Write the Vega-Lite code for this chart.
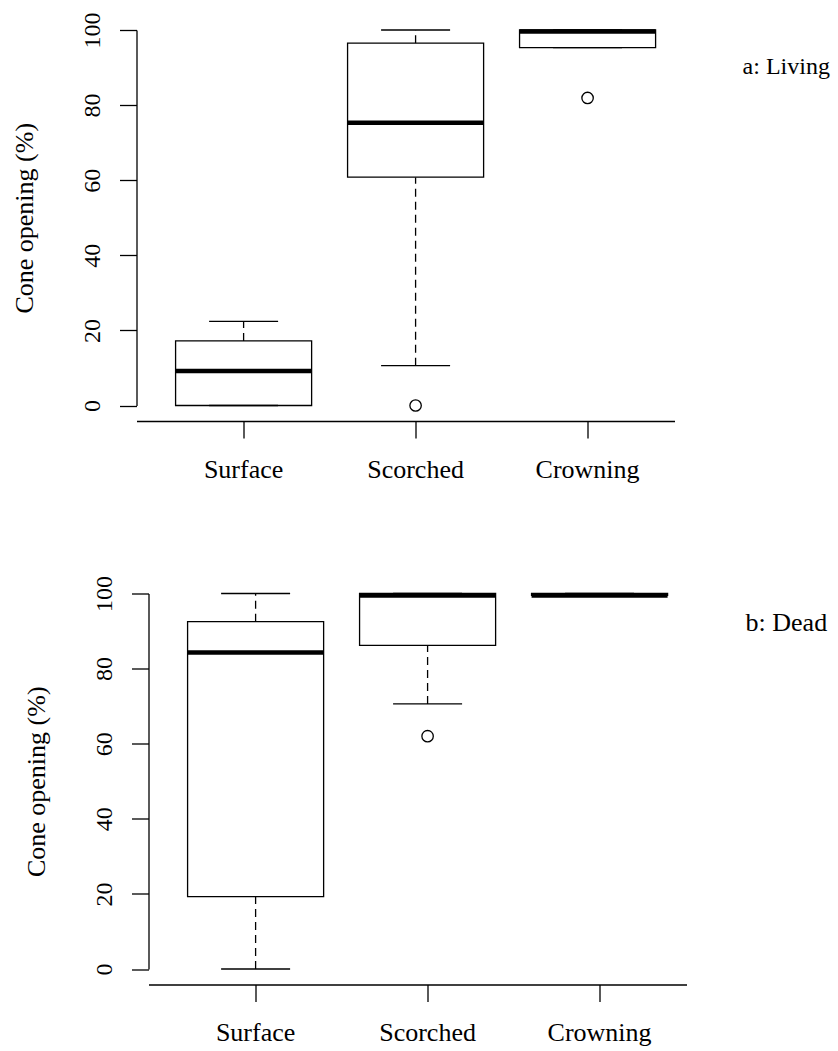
{
  "$schema": "https://vega.github.io/schema/vega-lite/v6.json",
  "background": "white",
  "padding": {"left": 11.5, "top": 12, "right": 5, "bottom": 5},
  "config": {
    "view": {"stroke": null},
    "font": "Liberation Serif",
    "axis": {"domainColor": "black", "tickColor": "black", "labelColor": "black", "titleColor": "black", "grid": false, "domainWidth": 1.3, "tickWidth": 1.3, "tickSize": 17, "labelFont": "Liberation Serif", "titleFont": "Liberation Serif", "titleFontWeight": "normal"},
    "axisX": {"labelFontSize": 26, "labelPadding": 18, "offset": 15.5, "labelAngle": 0},
    "axisY": {"labelFontSize": 24, "labelAngle": -90, "labelAlign": "center", "labelBaseline": "alphabetic", "labelPadding": 20, "titleFontSize": 26, "titlePadding": 43}
  },
  "datasets": {
    "boxes": [
      {"panel": "Living", "fire": "Surface", "lower": 0, "q1": 0, "median": 9.2, "q3": 17.2, "upper": 22.4},
      {"panel": "Living", "fire": "Scorched", "lower": 10.6, "q1": 60.8, "median": 75.3, "q3": 96.5, "upper": 100},
      {"panel": "Living", "fire": "Crowning", "lower": 95.3, "q1": 95.3, "median": 99.6, "q3": 100, "upper": 100},
      {"panel": "Dead", "fire": "Surface", "lower": 0, "q1": 19.3, "median": 84.3, "q3": 92.5, "upper": 100},
      {"panel": "Dead", "fire": "Scorched", "lower": 70.6, "q1": 86.2, "median": 99.5, "q3": 100, "upper": 100},
      {"panel": "Dead", "fire": "Crowning", "lower": 99.5, "q1": 99.5, "median": 99.5, "q3": 100, "upper": 100}
    ],
    "outliers": [
      {"panel": "Living", "fire": "Scorched", "value": 0},
      {"panel": "Living", "fire": "Crowning", "value": 81.9},
      {"panel": "Dead", "fire": "Scorched", "value": 62.0}
    ]
  },
  "spacing": 187.5,
  "bounds": "flush",
  "vconcat": [
    {
      "width": 538,
      "height": 375.5,
      "layer": [
        {
          "data": {"name": "boxes"},
          "transform": [{"filter": "datum.panel === 'Living'"}],
          "mark": {"type": "rule", "strokeDash": [8, 5], "strokeWidth": 1.3, "color": "black"},
          "encoding": {
            "x": {"field": "fire", "type": "nominal", "sort": ["Surface", "Scorched", "Crowning"], "scale": {"domain": ["Surface", "Scorched", "Crowning"], "paddingInner": 0.209, "paddingOuter": 0.1686, "align": 0.674}, "axis": {"title": null}},
            "y": {"field": "q3", "type": "quantitative", "title": "Cone opening (%)", "scale": {"domain": [0, 100], "nice": false, "zero": false}, "axis": {"values": [0, 20, 40, 60, 80, 100]}},
            "y2": {"field": "upper"}
          }
        },
        {
          "data": {"name": "boxes"},
          "transform": [{"filter": "datum.panel === 'Living'"}],
          "mark": {"type": "rule", "strokeDash": [8, 5], "strokeWidth": 1.3, "color": "black"},
          "encoding": {
            "x": {"field": "fire", "type": "nominal", "sort": ["Surface", "Scorched", "Crowning"]},
            "y": {"field": "lower", "type": "quantitative", "title": "Cone opening (%)"},
            "y2": {"field": "q1"}
          }
        },
        {
          "data": {"name": "boxes"},
          "transform": [{"filter": "datum.panel === 'Living'"}],
          "mark": {"type": "bar", "fill": "white", "stroke": "black", "strokeWidth": 1.3},
          "encoding": {
            "x": {"field": "fire", "type": "nominal", "sort": ["Surface", "Scorched", "Crowning"]},
            "y": {"field": "q1", "type": "quantitative", "title": "Cone opening (%)"},
            "y2": {"field": "q3"}
          }
        },
        {
          "data": {"name": "boxes"},
          "transform": [{"filter": "datum.panel === 'Living'"}],
          "mark": {"type": "tick", "color": "black", "size": 136, "thickness": 4.5, "opacity": 1},
          "encoding": {
            "x": {"field": "fire", "type": "nominal", "sort": ["Surface", "Scorched", "Crowning"]},
            "y": {"field": "median", "type": "quantitative", "title": "Cone opening (%)"}
          }
        },
        {
          "data": {"name": "boxes"},
          "transform": [{"filter": "datum.panel === 'Living'"}],
          "mark": {"type": "tick", "color": "black", "size": 69, "thickness": 1.3, "opacity": 1},
          "encoding": {
            "x": {"field": "fire", "type": "nominal", "sort": ["Surface", "Scorched", "Crowning"]},
            "y": {"field": "upper", "type": "quantitative", "title": "Cone opening (%)"}
          }
        },
        {
          "data": {"name": "boxes"},
          "transform": [{"filter": "datum.panel === 'Living'"}],
          "mark": {"type": "tick", "color": "black", "size": 69, "thickness": 1.3, "opacity": 1},
          "encoding": {
            "x": {"field": "fire", "type": "nominal", "sort": ["Surface", "Scorched", "Crowning"]},
            "y": {"field": "lower", "type": "quantitative", "title": "Cone opening (%)"}
          }
        },
        {
          "data": {"name": "outliers"},
          "transform": [{"filter": "datum.panel === 'Living'"}],
          "mark": {"type": "point", "shape": "circle", "filled": false, "stroke": "black", "strokeWidth": 1.3, "size": 130, "opacity": 1},
          "encoding": {
            "x": {"field": "fire", "type": "nominal", "sort": ["Surface", "Scorched", "Crowning"]},
            "y": {"field": "value", "type": "quantitative", "title": "Cone opening (%)"}
          }
        },
        {
          "data": {"values": [{"label": "a: Living"}]},
          "mark": {"type": "text", "align": "left", "baseline": "alphabetic", "dx": 155, "fontSize": 24, "color": "black", "font": "Liberation Serif"},
          "encoding": {
            "x": {"datum": "Crowning"},
            "y": {"datum": 88.4},
            "text": {"field": "label"}
          }
        }
      ]
    },
    {
      "hconcat": [
        {
          "width": 12,
          "height": 375.5,
          "data": {"values": [{}]},
          "mark": {"type": "point", "opacity": 0}
        },
        {
          "width": 538,
          "height": 375.5,
          "layer": [
            {
              "data": {"name": "boxes"},
              "transform": [{"filter": "datum.panel === 'Dead'"}],
              "mark": {"type": "rule", "strokeDash": [8, 5], "strokeWidth": 1.3, "color": "black"},
              "encoding": {
                "x": {"field": "fire", "type": "nominal", "sort": ["Surface", "Scorched", "Crowning"], "scale": {"domain": ["Surface", "Scorched", "Crowning"], "paddingInner": 0.209, "paddingOuter": 0.1686, "align": 0.674}, "axis": {"title": null}},
                "y": {"field": "q3", "type": "quantitative", "title": "Cone opening (%)", "scale": {"domain": [0, 100], "nice": false, "zero": false}, "axis": {"values": [0, 20, 40, 60, 80, 100]}},
                "y2": {"field": "upper"}
              }
            },
            {
              "data": {"name": "boxes"},
              "transform": [{"filter": "datum.panel === 'Dead'"}],
              "mark": {"type": "rule", "strokeDash": [8, 5], "strokeWidth": 1.3, "color": "black"},
              "encoding": {
                "x": {"field": "fire", "type": "nominal", "sort": ["Surface", "Scorched", "Crowning"]},
                "y": {"field": "lower", "type": "quantitative", "title": "Cone opening (%)"},
                "y2": {"field": "q1"}
              }
            },
            {
              "data": {"name": "boxes"},
              "transform": [{"filter": "datum.panel === 'Dead'"}],
              "mark": {"type": "bar", "fill": "white", "stroke": "black", "strokeWidth": 1.3},
              "encoding": {
                "x": {"field": "fire", "type": "nominal", "sort": ["Surface", "Scorched", "Crowning"]},
                "y": {"field": "q1", "type": "quantitative", "title": "Cone opening (%)"},
                "y2": {"field": "q3"}
              }
            },
            {
              "data": {"name": "boxes"},
              "transform": [{"filter": "datum.panel === 'Dead'"}],
              "mark": {"type": "tick", "color": "black", "size": 136, "thickness": 4.5, "opacity": 1},
              "encoding": {
                "x": {"field": "fire", "type": "nominal", "sort": ["Surface", "Scorched", "Crowning"]},
                "y": {"field": "median", "type": "quantitative", "title": "Cone opening (%)"}
              }
            },
            {
              "data": {"name": "boxes"},
              "transform": [{"filter": "datum.panel === 'Dead'"}],
              "mark": {"type": "tick", "color": "black", "size": 69, "thickness": 1.3, "opacity": 1},
              "encoding": {
                "x": {"field": "fire", "type": "nominal", "sort": ["Surface", "Scorched", "Crowning"]},
                "y": {"field": "upper", "type": "quantitative", "title": "Cone opening (%)"}
              }
            },
            {
              "data": {"name": "boxes"},
              "transform": [{"filter": "datum.panel === 'Dead'"}],
              "mark": {"type": "tick", "color": "black", "size": 69, "thickness": 1.3, "opacity": 1},
              "encoding": {
                "x": {"field": "fire", "type": "nominal", "sort": ["Surface", "Scorched", "Crowning"]},
                "y": {"field": "lower", "type": "quantitative", "title": "Cone opening (%)"}
              }
            },
            {
              "data": {"name": "outliers"},
              "transform": [{"filter": "datum.panel === 'Dead'"}],
              "mark": {"type": "point", "shape": "circle", "filled": false, "stroke": "black", "strokeWidth": 1.3, "size": 130, "opacity": 1},
              "encoding": {
                "x": {"field": "fire", "type": "nominal", "sort": ["Surface", "Scorched", "Crowning"]},
                "y": {"field": "value", "type": "quantitative", "title": "Cone opening (%)"}
              }
            },
            {
              "data": {"values": [{"label": "b: Dead"}]},
              "mark": {"type": "text", "align": "left", "baseline": "alphabetic", "dx": 146, "fontSize": 26, "color": "black", "font": "Liberation Serif"},
              "encoding": {
                "x": {"datum": "Crowning"},
                "y": {"datum": 90.0},
                "text": {"field": "label"}
              }
            }
          ]
        }
      ],
      "spacing": 0,
      "bounds": "flush"
    }
  ]
}
